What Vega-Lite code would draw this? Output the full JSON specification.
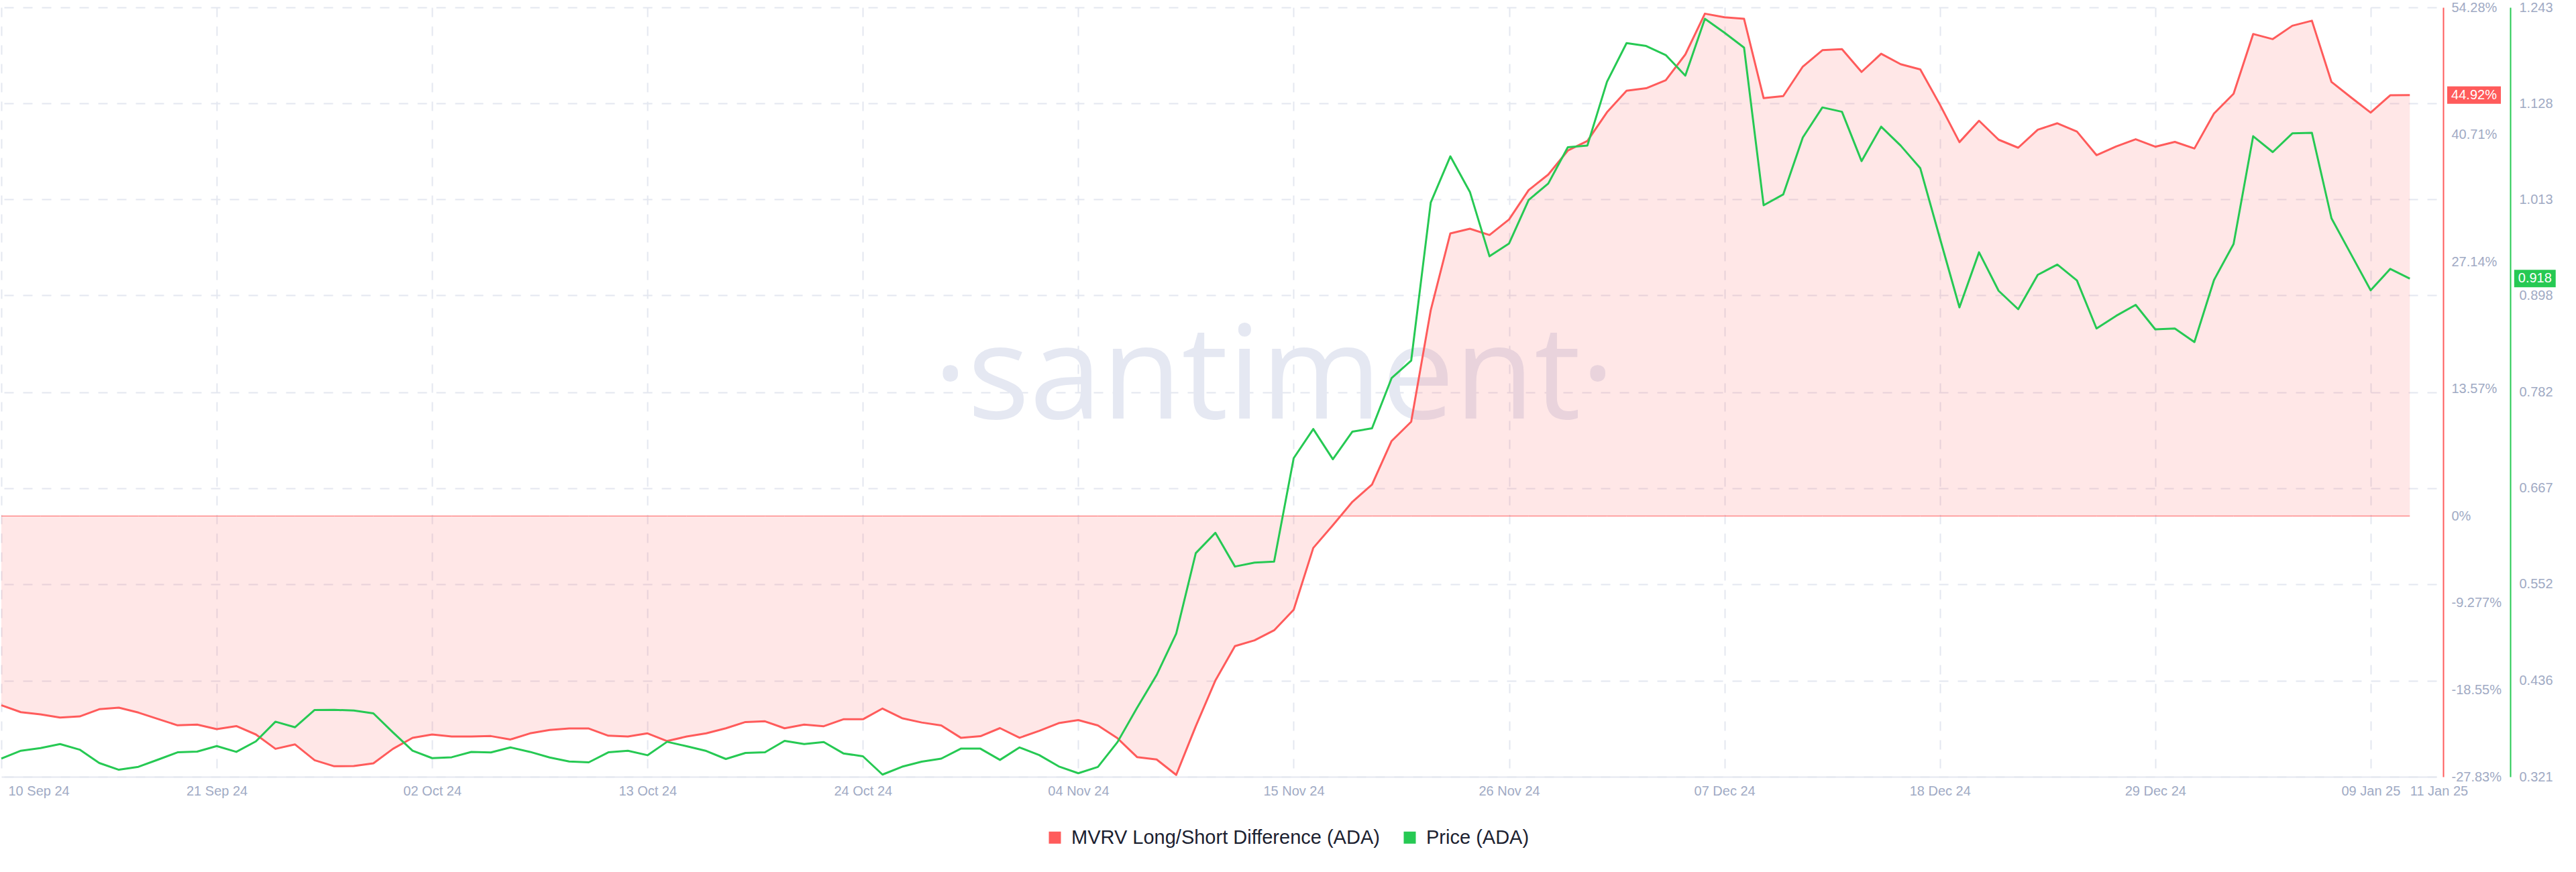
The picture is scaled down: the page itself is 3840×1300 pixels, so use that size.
{
  "$schema": "https://vega.github.io/schema/vega-lite/v6.json",
  "width": 3630,
  "height": 1147,
  "padding": {"left": 0, "top": 1, "right": 0, "bottom": 0},
  "background": "white",
  "config": {
    "view": {"stroke": null},
    "font": "Liberation Sans",
    "axis": {"labelFont": "Liberation Sans", "labelFontSize": 20, "labelColor": "#9faac4", "title": null, "ticks": false, "labelOverlap": false, "labelFlush": false, "labelBound": false},
    "legend": {"orient": "none", "legendX": 1556, "legendY": 1223, "direction": "horizontal", "symbolType": "square", "symbolSize": 324, "symbolStrokeWidth": 0, "symbolOpacity": 1, "labelFont": "Liberation Sans", "labelFontSize": 29, "labelLimit": 0, "labelColor": "#1c2130", "columnPadding": 30, "labelOffset": 10, "title": null, "padding": 0}
  },
  "datasets": {
    "series": [
      {"date": "2024-09-10", "mvrv": -20.20, "price": 0.3428},
      {"date": "2024-09-11", "mvrv": -20.94, "price": 0.3522},
      {"date": "2024-09-12", "mvrv": -21.18, "price": 0.3554},
      {"date": "2024-09-13", "mvrv": -21.51, "price": 0.3602},
      {"date": "2024-09-14", "mvrv": -21.39, "price": 0.3535},
      {"date": "2024-09-15", "mvrv": -20.62, "price": 0.3375},
      {"date": "2024-09-16", "mvrv": -20.46, "price": 0.3294},
      {"date": "2024-09-17", "mvrv": -20.98, "price": 0.3329},
      {"date": "2024-09-18", "mvrv": -21.66, "price": 0.3415},
      {"date": "2024-09-19", "mvrv": -22.34, "price": 0.3503},
      {"date": "2024-09-20", "mvrv": -22.27, "price": 0.3511},
      {"date": "2024-09-21", "mvrv": -22.75, "price": 0.3578},
      {"date": "2024-09-22", "mvrv": -22.42, "price": 0.3508},
      {"date": "2024-09-23", "mvrv": -23.32, "price": 0.3634},
      {"date": "2024-09-24", "mvrv": -24.85, "price": 0.3870},
      {"date": "2024-09-25", "mvrv": -24.38, "price": 0.3803},
      {"date": "2024-09-26", "mvrv": -26.07, "price": 0.4010},
      {"date": "2024-09-27", "mvrv": -26.71, "price": 0.4012},
      {"date": "2024-09-28", "mvrv": -26.69, "price": 0.4004},
      {"date": "2024-09-29", "mvrv": -26.40, "price": 0.3970},
      {"date": "2024-09-30", "mvrv": -24.85, "price": 0.3741},
      {"date": "2024-10-01", "mvrv": -23.68, "price": 0.3522},
      {"date": "2024-10-02", "mvrv": -23.32, "price": 0.3433},
      {"date": "2024-10-03", "mvrv": -23.54, "price": 0.3444},
      {"date": "2024-10-04", "mvrv": -23.54, "price": 0.3507},
      {"date": "2024-10-05", "mvrv": -23.49, "price": 0.3501},
      {"date": "2024-10-06", "mvrv": -23.85, "price": 0.3562},
      {"date": "2024-10-07", "mvrv": -23.20, "price": 0.3508},
      {"date": "2024-10-08", "mvrv": -22.84, "price": 0.3441},
      {"date": "2024-10-09", "mvrv": -22.68, "price": 0.3393},
      {"date": "2024-10-10", "mvrv": -22.68, "price": 0.3383},
      {"date": "2024-10-11", "mvrv": -23.45, "price": 0.3503},
      {"date": "2024-10-12", "mvrv": -23.54, "price": 0.3522},
      {"date": "2024-10-13", "mvrv": -23.20, "price": 0.3468},
      {"date": "2024-10-14", "mvrv": -24.02, "price": 0.3629},
      {"date": "2024-10-15", "mvrv": -23.54, "price": 0.3576},
      {"date": "2024-10-16", "mvrv": -23.20, "price": 0.3519},
      {"date": "2024-10-17", "mvrv": -22.66, "price": 0.3423},
      {"date": "2024-10-18", "mvrv": -21.99, "price": 0.3495},
      {"date": "2024-10-19", "mvrv": -21.91, "price": 0.3503},
      {"date": "2024-10-20", "mvrv": -22.66, "price": 0.3640},
      {"date": "2024-10-21", "mvrv": -22.27, "price": 0.3602},
      {"date": "2024-10-22", "mvrv": -22.44, "price": 0.3626},
      {"date": "2024-10-23", "mvrv": -21.70, "price": 0.3490},
      {"date": "2024-10-24", "mvrv": -21.70, "price": 0.3455},
      {"date": "2024-10-25", "mvrv": -20.55, "price": 0.3236},
      {"date": "2024-10-26", "mvrv": -21.58, "price": 0.3330},
      {"date": "2024-10-27", "mvrv": -22.04, "price": 0.3391},
      {"date": "2024-10-28", "mvrv": -22.35, "price": 0.3427},
      {"date": "2024-10-29", "mvrv": -23.67, "price": 0.3547},
      {"date": "2024-10-30", "mvrv": -23.50, "price": 0.3547},
      {"date": "2024-10-31", "mvrv": -22.64, "price": 0.3412},
      {"date": "2024-11-01", "mvrv": -23.67, "price": 0.3561},
      {"date": "2024-11-02", "mvrv": -22.94, "price": 0.3470},
      {"date": "2024-11-03", "mvrv": -22.11, "price": 0.3334},
      {"date": "2024-11-04", "mvrv": -21.78, "price": 0.3252},
      {"date": "2024-11-05", "mvrv": -22.35, "price": 0.3327},
      {"date": "2024-11-06", "mvrv": -23.72, "price": 0.3625},
      {"date": "2024-11-07", "mvrv": -25.73, "price": 0.4035},
      {"date": "2024-11-08", "mvrv": -25.99, "price": 0.4429},
      {"date": "2024-11-09", "mvrv": -27.63, "price": 0.4926},
      {"date": "2024-11-10", "mvrv": -22.43, "price": 0.5890},
      {"date": "2024-11-11", "mvrv": -17.56, "price": 0.6133},
      {"date": "2024-11-12", "mvrv": -13.89, "price": 0.5729},
      {"date": "2024-11-13", "mvrv": -13.27, "price": 0.5777},
      {"date": "2024-11-14", "mvrv": -12.20, "price": 0.5788},
      {"date": "2024-11-15", "mvrv": -10.00, "price": 0.7028},
      {"date": "2024-11-16", "mvrv": -3.41, "price": 0.7377},
      {"date": "2024-11-17", "mvrv": -0.99, "price": 0.7015},
      {"date": "2024-11-18", "mvrv": 1.52, "price": 0.7346},
      {"date": "2024-11-19", "mvrv": 3.35, "price": 0.7386},
      {"date": "2024-11-20", "mvrv": 8.00, "price": 0.7987},
      {"date": "2024-11-21", "mvrv": 10.06, "price": 0.8196},
      {"date": "2024-11-22", "mvrv": 21.97, "price": 1.0092},
      {"date": "2024-11-23", "mvrv": 30.16, "price": 1.0645},
      {"date": "2024-11-24", "mvrv": 30.66, "price": 1.0218},
      {"date": "2024-11-25", "mvrv": 29.99, "price": 0.9447},
      {"date": "2024-11-26", "mvrv": 31.65, "price": 0.9601},
      {"date": "2024-11-27", "mvrv": 34.78, "price": 1.0122},
      {"date": "2024-11-28", "mvrv": 36.44, "price": 1.0319},
      {"date": "2024-11-29", "mvrv": 39.00, "price": 1.0754},
      {"date": "2024-11-30", "mvrv": 40.02, "price": 1.0775},
      {"date": "2024-12-01", "mvrv": 43.09, "price": 1.1539},
      {"date": "2024-12-02", "mvrv": 45.39, "price": 1.2002},
      {"date": "2024-12-03", "mvrv": 45.65, "price": 1.1967},
      {"date": "2024-12-04", "mvrv": 46.51, "price": 1.1859},
      {"date": "2024-12-05", "mvrv": 49.25, "price": 1.1612},
      {"date": "2024-12-06", "mvrv": 53.61, "price": 1.2293},
      {"date": "2024-12-07", "mvrv": 53.22, "price": 1.2126},
      {"date": "2024-12-08", "mvrv": 53.06, "price": 1.1948},
      {"date": "2024-12-09", "mvrv": 44.59, "price": 1.0059},
      {"date": "2024-12-10", "mvrv": 44.81, "price": 1.0188},
      {"date": "2024-12-11", "mvrv": 47.96, "price": 1.0871},
      {"date": "2024-12-12", "mvrv": 49.71, "price": 1.1231},
      {"date": "2024-12-13", "mvrv": 49.83, "price": 1.1179},
      {"date": "2024-12-14", "mvrv": 47.39, "price": 1.0588},
      {"date": "2024-12-15", "mvrv": 49.33, "price": 1.1000},
      {"date": "2024-12-16", "mvrv": 48.21, "price": 1.0773},
      {"date": "2024-12-17", "mvrv": 47.66, "price": 1.0502},
      {"date": "2024-12-18", "mvrv": 43.91, "price": 0.9665},
      {"date": "2024-12-19", "mvrv": 39.90, "price": 0.8835},
      {"date": "2024-12-20", "mvrv": 42.18, "price": 0.9495},
      {"date": "2024-12-21", "mvrv": 40.16, "price": 0.9034},
      {"date": "2024-12-22", "mvrv": 39.30, "price": 0.8813},
      {"date": "2024-12-23", "mvrv": 41.22, "price": 0.9225},
      {"date": "2024-12-24", "mvrv": 41.91, "price": 0.9348},
      {"date": "2024-12-25", "mvrv": 41.03, "price": 0.9157},
      {"date": "2024-12-26", "mvrv": 38.51, "price": 0.8582},
      {"date": "2024-12-27", "mvrv": 39.44, "price": 0.8733},
      {"date": "2024-12-28", "mvrv": 40.21, "price": 0.8865},
      {"date": "2024-12-29", "mvrv": 39.41, "price": 0.8572},
      {"date": "2024-12-30", "mvrv": 39.93, "price": 0.8582},
      {"date": "2024-12-31", "mvrv": 39.22, "price": 0.8419},
      {"date": "2025-01-01", "mvrv": 42.95, "price": 0.9163},
      {"date": "2025-01-02", "mvrv": 45.06, "price": 0.9594},
      {"date": "2025-01-03", "mvrv": 51.44, "price": 1.0886},
      {"date": "2025-01-04", "mvrv": 50.89, "price": 1.0696},
      {"date": "2025-01-05", "mvrv": 52.32, "price": 1.0920},
      {"date": "2025-01-06", "mvrv": 52.86, "price": 1.0926},
      {"date": "2025-01-07", "mvrv": 46.32, "price": 0.9902},
      {"date": "2025-01-08", "mvrv": 44.67, "price": 0.9471},
      {"date": "2025-01-09", "mvrv": 43.05, "price": 0.9040},
      {"date": "2025-01-10", "mvrv": 44.90, "price": 0.9296},
      {"date": "2025-01-11", "mvrv": 44.92, "price": 0.9180}
    ],
    "last": [{"date": "2025-01-11", "mvrv": 44.92, "mvrvLabel": "44.92%", "price": 0.918, "priceLabel": "0.918", "brand": "·santiment·"}]
  },
  "resolve": {"scale": {"y": "independent"}},
  "encoding": {
    "x": {
      "field": "date", "type": "temporal",
      "scale": {"type": "utc", "nice": false, "domain": [{"year": 2024, "month": 9, "date": 10, "utc": true}, {"year": 2025, "month": 1, "date": 12, "hours": 8, "minutes": 40, "utc": true}]},
      "axis": {
        "title": null,
        "values": [
          {"year": 2024, "month": 9, "date": 10, "utc": true},
          {"year": 2024, "month": 9, "date": 21, "utc": true},
          {"year": 2024, "month": 10, "date": 2, "utc": true},
          {"year": 2024, "month": 10, "date": 13, "utc": true},
          {"year": 2024, "month": 10, "date": 24, "utc": true},
          {"year": 2024, "month": 11, "date": 4, "utc": true},
          {"year": 2024, "month": 11, "date": 15, "utc": true},
          {"year": 2024, "month": 11, "date": 26, "utc": true},
          {"year": 2024, "month": 12, "date": 7, "utc": true},
          {"year": 2024, "month": 12, "date": 18, "utc": true},
          {"year": 2024, "month": 12, "date": 29, "utc": true},
          {"year": 2025, "month": 1, "date": 9, "utc": true},
          {"year": 2025, "month": 1, "date": 11, "utc": true}
        ],
        "labelExpr": "utcFormat(datum.value, '%d %b %y')",
        "labelAlign": {"condition": {"test": "datum.value < 1726000000000 || datum.value > 1736500000000", "value": "left"}, "value": "center"},
        "labelOffset": {"condition": {"test": "datum.value < 1726000000000", "value": 10}, "value": 0},
        "labelPadding": 11,
        "grid": true,
        "gridDash": [14, 14],
        "gridColor": "#e4e7f0",
        "gridWidth": 2,
        "gridOpacity": {"condition": {"test": "datum.value > 1736500000000", "value": 0}, "value": 1},
        "domainColor": "#e4e7f0",
        "domainWidth": 2
      }
    }
  },
  "layer": [
    {
      "layer": [
        {
          "data": {"name": "last"},
          "mark": {"type": "text", "font": "Open Sans", "fontSize": 194, "color": "#e5e8f2", "align": "center", "baseline": "alphabetic"},
          "encoding": {
            "x": {"datum": {"year": 2024, "month": 11, "date": 14, "utc": true}, "type": "temporal"},
            "y": {"datum": 10.4, "type": "quantitative", "scale": {"domain": [-27.83, 54.28], "nice": false, "zero": false}},
            "text": {"field": "brand"}
          }
        },
        {
          "data": {"name": "series"},
          "mark": {"type": "area", "color": "#ff5b5b", "fillOpacity": 0.15, "line": false},
          "encoding": {
            "y": {
              "field": "mvrv", "type": "quantitative",
              "scale": {"domain": [-27.83, 54.28], "nice": false, "zero": false},
              "axis": {
                "title": null,
                "orient": "right",
                "offset": 10,
                "values": [54.28, 40.71, 27.14, 13.57, 0, -9.277, -18.55, -27.83],
                "labelExpr": "datum.value + '%'",
                "grid": false,
                "domainColor": "#ff5b5b",
                "domainWidth": 2,
                "labelPadding": 12,
                "labelAlign": "left"
              }
            },
            "y2": {"datum": 0}
          }
        },
        {
          "data": {"name": "series"},
          "mark": {"type": "line", "color": "#ff5b5b", "strokeWidth": 1},
          "encoding": {
            "y": {"datum": 0, "type": "quantitative", "scale": {"domain": [-27.83, 54.28], "nice": false, "zero": false}}
          }
        },
        {
          "data": {"name": "series"},
          "mark": {"type": "line", "strokeWidth": 3, "strokeJoin": "round"},
          "encoding": {
            "y": {"field": "mvrv", "type": "quantitative", "scale": {"domain": [-27.83, 54.28], "nice": false, "zero": false}},
            "color": {
              "datum": "MVRV Long/Short Difference (ADA)", "type": "nominal",
              "scale": {"domain": ["MVRV Long/Short Difference (ADA)", "Price (ADA)"], "range": ["#ff5b5b", "#26c953"]},
              "legend": {"encode": {"symbols": {"update": {"fill": {"scale": "color", "field": "value"}, "fillOpacity": {"value": 1}, "strokeWidth": {"value": 0}}}}}
            }
          }
        },
        {
          "data": {"name": "last"},
          "mark": {"type": "rect", "color": "#ff5b5b"},
          "encoding": {
            "x": {"datum": {"year": 2025, "month": 1, "date": 12, "hours": 21, "minutes": 50, "utc": true}, "type": "temporal"},
            "x2": {"datum": {"year": 2025, "month": 1, "date": 15, "hours": 15, "minutes": 36, "utc": true}},
            "y": {"datum": 45.85, "type": "quantitative", "scale": {"domain": [-27.83, 54.28], "nice": false, "zero": false}},
            "y2": {"datum": 43.99}
          }
        },
        {
          "data": {"name": "last"},
          "mark": {"type": "text", "color": "white", "fontSize": 20, "font": "Liberation Sans", "align": "center", "baseline": "middle"},
          "encoding": {
            "x": {"datum": {"year": 2025, "month": 1, "date": 14, "hours": 6, "minutes": 43, "utc": true}, "type": "temporal"},
            "y": {"field": "mvrv", "type": "quantitative", "scale": {"domain": [-27.83, 54.28], "nice": false, "zero": false}},
            "text": {"field": "mvrvLabel"}
          }
        }
      ]
    },
    {
      "layer": [
        {
          "data": {"name": "series"},
          "mark": {"type": "line", "strokeWidth": 3, "strokeJoin": "round"},
          "encoding": {
            "y": {
              "field": "price", "type": "quantitative",
              "scale": {"domain": [0.321, 1.243], "nice": false, "zero": false},
              "axis": {
                "title": null,
                "orient": "right",
                "offset": 110,
                "values": [1.243, 1.128, 1.013, 0.898, 0.782, 0.667, 0.552, 0.436, 0.321],
                "format": ".3f",
                "grid": true,
                "gridDash": [14, 14],
                "gridColor": "#e4e7f0",
                "gridWidth": 2,
                "domainColor": "#26c953",
                "domainWidth": 2,
                "labelPadding": 13,
                "labelAlign": "left"
              }
            },
            "color": {"datum": "Price (ADA)", "type": "nominal"}
          }
        },
        {
          "data": {"name": "last"},
          "mark": {"type": "rect", "color": "#26c953"},
          "encoding": {
            "x": {"datum": {"year": 2025, "month": 1, "date": 16, "hours": 7, "minutes": 55, "utc": true}, "type": "temporal"},
            "x2": {"datum": {"year": 2025, "month": 1, "date": 18, "hours": 10, "minutes": 48, "utc": true}},
            "y": {"datum": 0.9285, "type": "quantitative", "scale": {"domain": [0.321, 1.243], "nice": false, "zero": false}},
            "y2": {"datum": 0.9075}
          }
        },
        {
          "data": {"name": "last"},
          "mark": {"type": "text", "color": "white", "fontSize": 20, "font": "Liberation Sans", "align": "center", "baseline": "middle"},
          "encoding": {
            "x": {"datum": {"year": 2025, "month": 1, "date": 17, "hours": 9, "minutes": 22, "utc": true}, "type": "temporal"},
            "y": {"field": "price", "type": "quantitative", "scale": {"domain": [0.321, 1.243], "nice": false, "zero": false}},
            "text": {"field": "priceLabel"}
          }
        }
      ]
    }
  ]
}
